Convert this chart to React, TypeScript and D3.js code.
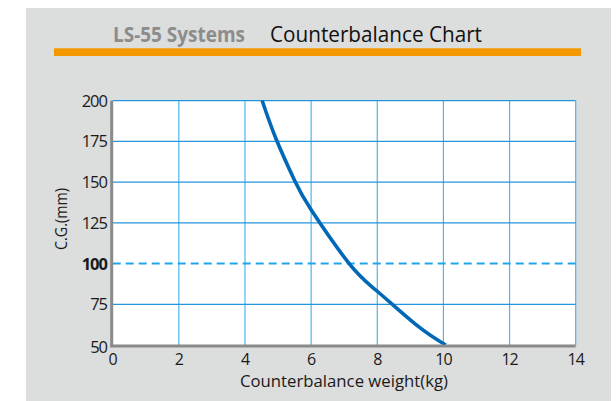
import React from "react";
import * as d3 from "d3";

const weightKg: number[] = [4.52, 4.95, 5.5, 6.0, 7.15, 8.0, 9.2, 10.07];
const cgMm: number[] = [200, 176, 151, 133, 100, 83, 62, 50];
const xTicks: number[] = [0, 2, 4, 6, 8, 10, 12, 14];
const yTicks: number[] = [50, 75, 100, 125, 150, 175, 200];
const referenceCg = 100;
const titleBrand = "LS-55 Systems";
const titleMain = "Counterbalance Chart";
const xLabel = "Counterbalance weight(kg)";
const yLabel = "C.G.(mm)";

const W = 616;
const H = 401;
const left = 112.7;
const right = 575.7;
const top = 100.7;
const bottom = 345;
const FONT = "'Open Sans', 'Noto Sans', sans-serif";

export default function App() {
  const x = d3.scaleLinear().domain([0, 14]).range([left, right]);
  const y = d3.scaleLinear().domain([50, 200]).range([bottom, top]);
  const pts: [number, number][] = weightKg.map((w, i) => [w, cgMm[i]]);
  const line = d3
    .line<[number, number]>()
    .x((d) => x(d[0]))
    .y((d) => y(d[1]))
    .curve(d3.curveNatural);

  return (
    <svg
      width={W}
      height={H}
      style={{ position: "absolute", left: 0, top: 0, display: "block" }}
      fontFamily={FONT}
    >
      <rect x={0} y={0} width={W} height={H} fill="#ffffff" />
      <rect x={26} y={8} width={585} height={H - 8} fill="#dcdddd" />
      <rect x={54} y={48.3} width={527} height={7.7} fill="#f39800" />
      <text
        x={113}
        y={42}
        fontSize={21}
        fontWeight={700}
        fill="#8c8c8c"
        textLength={132}
        lengthAdjust="spacingAndGlyphs"
      >
        {titleBrand}
      </text>
      <text
        x={270}
        y={42}
        fontSize={21.5}
        fill="#111"
        textLength={212}
        lengthAdjust="spacingAndGlyphs"
      >
        {titleMain}
      </text>

      <rect x={left} y={top} width={right - left} height={bottom - top} fill="#ffffff" />

      {xTicks.slice(1).map((t) => (
        <line
          key={"vx" + t}
          x1={x(t)}
          x2={x(t)}
          y1={top}
          y2={bottom}
          stroke="#4db5ec"
          strokeWidth={1.2}
        />
      ))}
      {yTicks
        .filter((t) => t !== referenceCg && t !== 50)
        .map((t) => (
          <line
            key={"hy" + t}
            x1={left}
            x2={right}
            y1={y(t)}
            y2={y(t)}
            stroke="#2396dc"
            strokeWidth={1.2}
          />
        ))}
      <line
        x1={left}
        x2={right}
        y1={y(referenceCg)}
        y2={y(referenceCg)}
        stroke="#1ea6ec"
        strokeWidth={2}
        strokeDasharray="8 5"
      />

      <path d={line(pts) || ""} fill="none" stroke="#0068b7" strokeWidth={3.6} />

      <line x1={left - 1} x2={left - 1} y1={top} y2={bottom + 2} stroke="#8a8a8a" strokeWidth={3} />
      <line x1={left - 2.5} x2={right} y1={bottom + 1} y2={bottom + 1} stroke="#8a8a8a" strokeWidth={3} />

      {yTicks.map((t) => (
        <text
          key={"yl" + t}
          x={107}
          y={y(t) + (t === 50 ? 7.5 : 6)}
          textAnchor="end"
          fontSize={16.5}
          fontWeight={t === referenceCg ? 700 : 400}
          fill="#1a1a1a"
          letterSpacing={-1}
        >
          {t}
        </text>
      ))}
      {xTicks.map((t) => (
        <text
          key={"xl" + t}
          x={x(t)}
          y={365}
          textAnchor="middle"
          fontSize={16}
          fill="#1a1a1a"
          letterSpacing={-1}
        >
          {t}
        </text>
      ))}
      <text
        x={344}
        y={387}
        textAnchor="middle"
        fontSize={16.5}
        fill="#1a1a1a"
        textLength={208}
        lengthAdjust="spacingAndGlyphs"
      >
        {xLabel}
      </text>
      <text
        transform={`translate(67, 219) rotate(-90)`}
        textAnchor="middle"
        fontSize={16.5}
        fill="#1a1a1a"
        textLength={62}
        lengthAdjust="spacingAndGlyphs"
      >
        {yLabel}
      </text>
    </svg>
  );
}
